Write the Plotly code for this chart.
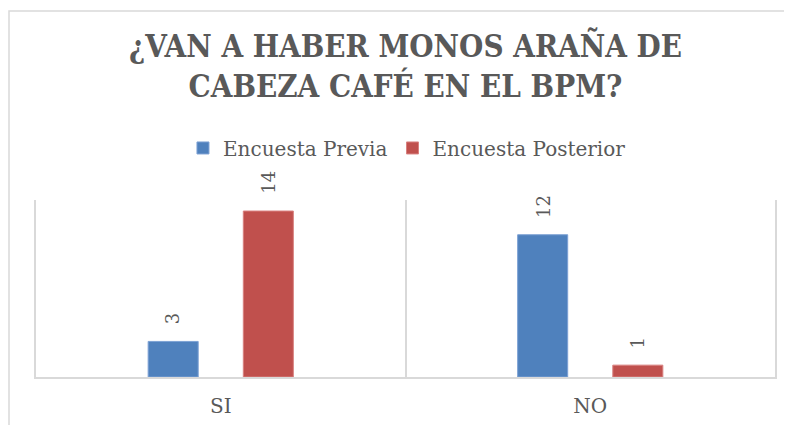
import plotly.graph_objects as go

# datos de la encuesta
categorias = ['SI', 'NO']
previa = [3, 12]
posterior = [14, 1]

gris = '#595959'
borde = '#d9d9d9'
W, H = 784, 417  # la página deja 8 px de margen

fig = go.Figure()
fig.add_trace(go.Bar(x=categorias, y=previa, name='Encuesta Previa',
                     marker=dict(color='#4f81bd', line=dict(color='#7da1d4', width=1))))
fig.add_trace(go.Bar(x=categorias, y=posterior, name='Encuesta Posterior',
                     marker=dict(color='#c0504d', line=dict(color='#d98280', width=1))))

# etiquetas de datos giradas
anots = []
for serie, dx in [(previa, -47.5), (posterior, 47.5)]:
    for cat, val in zip(categorias, serie):
        anots.append(dict(x=cat, y=val, xref='x', yref='y', text=str(val),
                          showarrow=False, textangle=-90, xshift=dx, yshift=15,
                          yanchor='bottom', xanchor='center',
                          font=dict(family='DejaVu Serif', size=18, color=gris)))

fig.update_layout(
    width=W, height=H,
    margin=dict(l=28, r=17, t=192, b=48, autoexpand=False),
    paper_bgcolor='white', plot_bgcolor='white',
    barmode='group', bargap=0.485, bargroupgap=0.474,
    title=dict(text='¿VAN A HABER MONOS ARAÑA DE<br>CABEZA CAFÉ EN EL BPM?',
               x=0.507, xanchor='center', y=1 - 49 / H, yanchor='middle',
               yref='container',
               font=dict(family='DejaVu Serif Condensed', size=31, color=gris, weight='bold')),
    legend=dict(orientation='h', x=0.502, xanchor='center', y=1.294, yanchor='middle',
                font=dict(family='DejaVu Serif', size=20, color=gris),
                itemwidth=30, traceorder='normal'),
    xaxis=dict(tickson='boundaries', showgrid=True, gridcolor=borde, gridwidth=1.5,
               showline=True, linecolor=borde, linewidth=2, ticks='',
               ticklabelstandoff=10, automargin=False,
               tickfont=dict(family='DejaVu Serif', size=20, color=gris)),
    yaxis=dict(range=[0, 14.93], showticklabels=False, showgrid=False, zeroline=False,
               showline=True, mirror=True, linecolor=borde, linewidth=1.5,
               ticks='', fixedrange=True, automargin=False),
    annotations=anots,
    shapes=[dict(type='rect', xref='paper', yref='paper',
                 x0=-27 / 739, x1=1.04, y0=-0.35, y1=2.068,
                 line=dict(color=borde, width=1.5), layer='below')],
)

fig.write_html('out.html')
